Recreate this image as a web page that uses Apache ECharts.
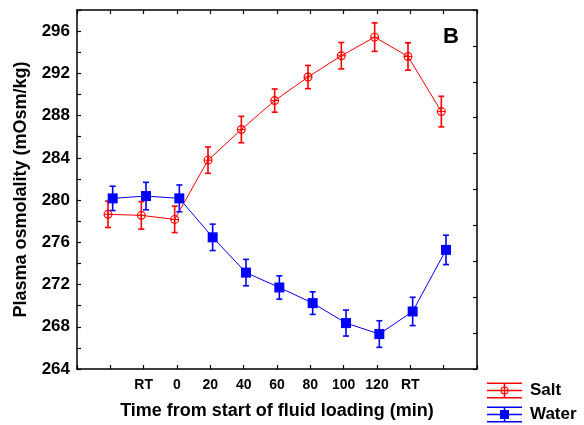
<!DOCTYPE html>
<html>
<head>
<meta charset="utf-8">
<script src="https://cdn.jsdelivr.net/npm/echarts@6/dist/echarts.min.js"></script>
<style>
html,body{margin:0;padding:0;background:#fff;}
#chart{width:584px;height:425px;}
</style>
</head>
<body>
<div id="chart"></div>
<script>
// ---- data ----
const xTickLabels = ['', 'RT', '0', '20', '40', '60', '80', '100', '120', 'RT', ''];
const saltMean  = [278.65, 278.55, 278.17, 283.78, 286.68, 289.42, 291.65, 293.67, 295.43, 293.60, 288.38];
const saltErr   = [1.25, 1.30, 1.25, 1.25, 1.25, 1.10, 1.10, 1.25, 1.35, 1.30, 1.45];
const waterMean = [280.16, 280.38, 280.16, 276.47, 273.13, 271.72, 270.24, 268.35, 267.31, 269.45, 275.28];
const waterErr  = [1.15, 1.30, 1.27, 1.25, 1.25, 1.10, 1.07, 1.23, 1.26, 1.34, 1.39];
const seriesNames = ['Salt', 'Water'];

const SALT_OFF = -0.07, WATER_OFF = 0.07;
const RED = '#ff0000', BLUE = '#0000ff';
const FONT = 'Liberation Sans, Arial, sans-serif';

function pts(mean, off) { return mean.map((v, i) => [i + off, v]); }
function errs(mean, err, off) { return mean.map((v, i) => [i + off, v - err[i], v + err[i]]); }

function errRender(color) {
  return function (params, api) {
    const x = api.value(0);
    const lo = api.coord([x, api.value(1)]);
    const hi = api.coord([x, api.value(2)]);
    const cw = 3;
    const st = { stroke: color, lineWidth: 1.6 };
    return {
      type: 'group',
      children: [
        { type: 'line', shape: { x1: lo[0], y1: lo[1], x2: hi[0], y2: hi[1] }, style: st },
        { type: 'line', shape: { x1: lo[0] - cw, y1: lo[1], x2: lo[0] + cw, y2: lo[1] }, style: st },
        { type: 'line', shape: { x1: hi[0] - cw, y1: hi[1], x2: hi[0] + cw, y2: hi[1] }, style: st }
      ]
    };
  };
}

const saltSymbol = 'path://M10 5A5 5 0 1 1 0 5A5 5 0 1 1 10 5ZM8.7 5A3.7 3.7 0 1 0 1.3 5A3.7 3.7 0 1 0 8.7 5ZM4.45 1.3H5.55V8.7H4.45ZM1.3 4.45H8.7V5.55H1.3Z';

const legLines = 'M0 0H35V1.6H0ZM0 7.2H35V8.8H0ZM0 14.4H35V16H0ZM16.7 0H18.3V16H16.7Z';
const saltLegendIcon = 'path://' + legLines + 'M21.5 8A4 4 0 1 1 13.5 8A4 4 0 1 1 21.5 8ZM20.4 8A2.9 2.9 0 1 0 14.6 8A2.9 2.9 0 1 0 20.4 8Z';
const waterLegendIcon = 'path://' + legLines + 'M13 3.5H22V12.5H13Z';

const chart = echarts.init(document.getElementById('chart'), null, { renderer: 'canvas' });

const axisLineStyle = { color: '#000', width: 1.5 };
const tickStyle = { show: true, inside: true, length: 4, lineStyle: { color: '#000', width: 1.2 } };

chart.setOption({
  animation: false,
  backgroundColor: '#fff',
  grid: { left: 77, right: 107, top: 10, bottom: 55 },
  xAxis: [
    {
      type: 'value', min: -1, max: 11, interval: 1, position: 'bottom',
      axisLine: { show: true, onZero: false, lineStyle: axisLineStyle },
      axisTick: tickStyle,
      splitLine: { show: false },
      axisLabel: {
        margin: 9, color: '#000', fontFamily: FONT, fontWeight: 'bold', fontSize: 14,
        formatter: function (v) { const i = Math.round(v); return (i >= 0 && i < xTickLabels.length) ? xTickLabels[i] : ''; }
      },
      name: 'Time from start of fluid loading (min)',
      nameLocation: 'middle', nameGap: 33,
      nameTextStyle: { color: '#000', fontFamily: FONT, fontWeight: 'bold', fontSize: 18 }
    },
    {
      type: 'value', min: -1, max: 11, interval: 1, position: 'top',
      axisLine: { show: true, onZero: false, lineStyle: axisLineStyle },
      axisTick: tickStyle,
      splitLine: { show: false },
      axisLabel: { show: false }
    }
  ],
  yAxis: [
    {
      type: 'value', min: 264, max: 298, interval: 2, position: 'left',
      axisLine: { show: true, onZero: false, lineStyle: axisLineStyle },
      axisTick: tickStyle,
      splitLine: { show: false },
      axisLabel: {
        margin: 7, color: '#000', fontFamily: FONT, fontWeight: 'bold', fontSize: 17,
        formatter: function (v) { return (v % 4 === 0 && v <= 296) ? String(v) : ''; }
      },
      name: 'Plasma osmolality (mOsm/kg)',
      nameLocation: 'middle', nameGap: 47, nameRotate: 90,
      nameTextStyle: { color: '#000', fontFamily: FONT, fontWeight: 'bold', fontSize: 18 }
    },
    {
      type: 'value', min: 0, max: 10, interval: 1, position: 'right',
      axisLine: { show: true, onZero: false, lineStyle: axisLineStyle },
      axisTick: tickStyle,
      splitLine: { show: false },
      axisLabel: { show: false }
    }
  ],
  legend: {
    orient: 'vertical', left: 487, top: 382, padding: 0,
    itemWidth: 35, itemHeight: 16, itemGap: 7,
    data: [
      { name: seriesNames[0], icon: saltLegendIcon },
      { name: seriesNames[1], icon: waterLegendIcon }
    ],
    textStyle: { color: '#000', fontFamily: FONT, fontWeight: 'bold', fontSize: 17, lineHeight: 16, padding: [0, 0, 0, 3] }
  },
  graphic: [
    { type: 'text', left: 443, top: 26, style: { text: 'B', fill: '#000', font: 'bold 22px ' + FONT } }
  ],
  series: [
    {
      name: seriesNames[0], type: 'custom', renderItem: errRender(RED),
      data: errs(saltMean, saltErr, SALT_OFF), encode: { x: 0, y: [1, 2] }, z: 2, silent: true,
      itemStyle: { color: RED }
    },
    {
      name: seriesNames[0], type: 'line', data: pts(saltMean, SALT_OFF),
      symbol: saltSymbol, symbolSize: 9, showAllSymbol: true,
      lineStyle: { color: RED, width: 1 }, itemStyle: { color: RED }, z: 3
    },
    {
      name: seriesNames[1], type: 'custom', renderItem: errRender(BLUE),
      data: errs(waterMean, waterErr, WATER_OFF), encode: { x: 0, y: [1, 2] }, z: 4, silent: true,
      itemStyle: { color: BLUE }
    },
    {
      name: seriesNames[1], type: 'line', data: pts(waterMean, WATER_OFF),
      symbol: 'rect', symbolSize: 10, showAllSymbol: true,
      lineStyle: { color: BLUE, width: 1 }, itemStyle: { color: BLUE }, z: 5
    }
  ]
});
</script>
</body>
</html>
